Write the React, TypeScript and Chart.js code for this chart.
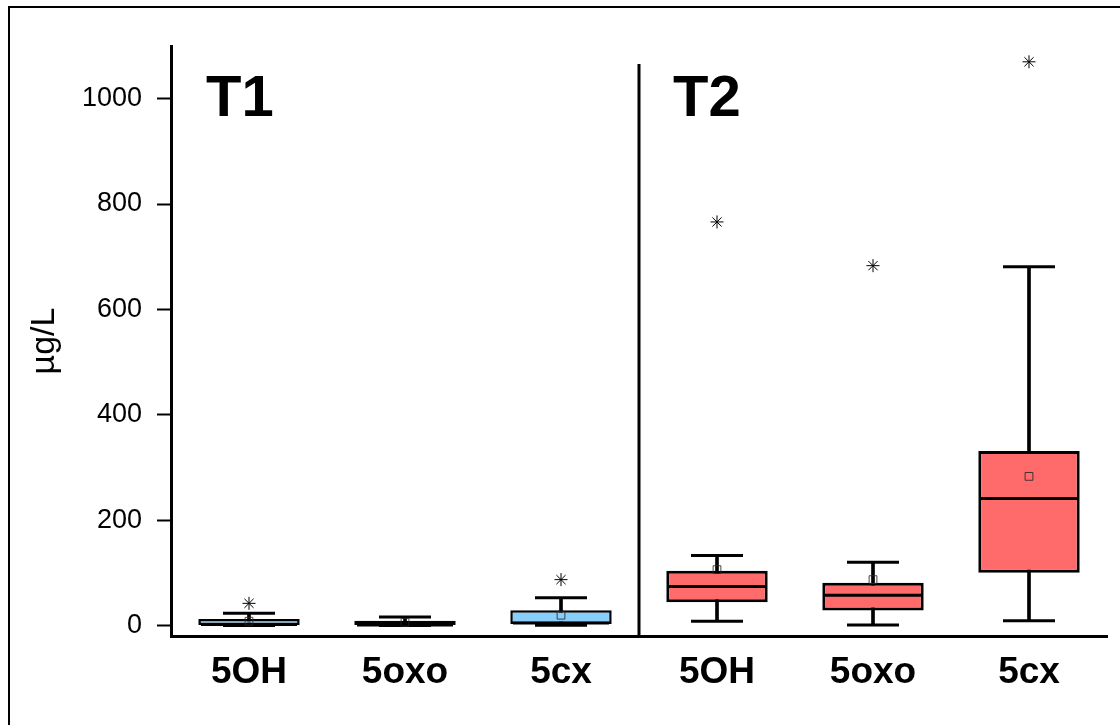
import { useEffect, useRef } from "react";
import { Chart, registerables } from "chart.js";

Chart.register(...registerables);

// Metabolite concentrations (µg/L) per sampling time, T1 then T2
const categories = ["5OH", "5oxo", "5cx", "5OH", "5oxo", "5cx"];
const groupNames = ["T1", "T2"];
const whiskerLow = [0, 0, 0.5, 8, 1, 9];
const q1 = [0, 0, 3, 44, 28.5, 100];
const median = [2, 1, 4.5, 74, 57.5, 241];
const q3 = [12.5, 9, 29, 104, 81, 331];
const whiskerHigh = [23, 16, 52.5, 133, 120, 681];
const mean = [8, 6, 19.5, 106, 87, 283];
const outliers = [42, null, 87, 766, 683, 1070];
const yTicks = [0, 200, 400, 600, 800, 1000];

const T1_FILL = "#87CEFA";
const T2_FILL = "#FF6A6A";
const boxFill = categories.map((_, i) => (i < 3 ? T1_FILL : T2_FILL));
const boxBorder = categories.map((_, i) => (i < 3 ? 2.5 : 3));
const FONT = "'Liberation Sans', Arial, Helvetica, sans-serif";

// Outer frame, T1/T2 divider and group headings
const decorations = {
  id: "decorations",
  beforeDraw(chart: any) {
    const { ctx } = chart;
    ctx.save();
    ctx.strokeStyle = "#000";
    ctx.lineWidth = 2;
    ctx.beginPath();
    ctx.moveTo(1120, 7);
    ctx.lineTo(9, 7);
    ctx.lineTo(9, 725);
    ctx.stroke();
    ctx.restore();
  },
  afterDraw(chart: any) {
    const { ctx, chartArea, scales } = chart;
    const x = scales.x;
    const divX = (x.getPixelForValue(2) + x.getPixelForValue(3)) / 2;
    ctx.save();
    ctx.strokeStyle = "#000";
    ctx.lineWidth = 3;
    ctx.beginPath();
    ctx.moveTo(divX, chartArea.top + 18);
    ctx.lineTo(divX, chartArea.bottom);
    ctx.stroke();

    ctx.fillStyle = "#000";
    ctx.font = `bold 58px ${FONT}`;
    ctx.textAlign = "left";
    ctx.textBaseline = "alphabetic";
    ctx.fillText(groupNames[0], chartArea.left + 35, chartArea.top + 70);
    ctx.fillText(groupNames[1], divX + 34, chartArea.top + 70);
    ctx.restore();
  },
};

export default function App() {
  const canvasRef = useRef<HTMLCanvasElement | null>(null);

  useEffect(() => {
    if (!canvasRef.current) return;
    const chart = new Chart(canvasRef.current, {
      type: "bar",
      data: {
        labels: categories,
        datasets: [
          {
            type: "bar",
            label: "whisker",
            data: categories.map((_, i) => [whiskerLow[i], whiskerHigh[i]]),
            backgroundColor: "#000",
            barThickness: 3,
            grouped: false,
            order: 10,
          } as any,
          {
            type: "bar",
            label: "box",
            data: categories.map((_, i) => [q1[i], q3[i]]),
            backgroundColor: boxFill,
            borderColor: "#000",
            borderWidth: boxBorder,
            borderSkipped: false,
            barPercentage: 0.65,
            categoryPercentage: 1,
            grouped: false,
            order: 9,
          } as any,
          {
            type: "line",
            label: "median",
            data: median,
            showLine: false,
            pointStyle: "line",
            pointRadius: 48,
            pointBorderColor: "#000",
            pointBorderWidth: 3,
            order: 5,
          } as any,
          {
            type: "line",
            label: "low",
            data: whiskerLow,
            showLine: false,
            pointStyle: "line",
            pointRadius: 26,
            pointBorderColor: "#000",
            pointBorderWidth: 3,
            order: 6,
          } as any,
          {
            type: "line",
            label: "high",
            data: whiskerHigh,
            showLine: false,
            pointStyle: "line",
            pointRadius: 26,
            pointBorderColor: "#000",
            pointBorderWidth: 3,
            order: 6,
          } as any,
          {
            type: "line",
            label: "mean",
            data: mean,
            showLine: false,
            pointStyle: "rect",
            pointRadius: 5.5,
            pointBackgroundColor: "rgba(0,0,0,0)",
            pointBorderColor: "rgba(40,40,40,0.85)",
            pointBorderWidth: 1,
            order: 3,
          } as any,
          {
            type: "line",
            label: "outlier",
            data: outliers,
            showLine: false,
            pointStyle: "star",
            pointRadius: 6.5,
            pointBorderColor: "#000",
            pointBorderWidth: 1,
            order: 2,
          } as any,
        ],
      },
      options: {
        responsive: false,
        animation: false,
        devicePixelRatio: 1,
        layout: { autoPadding: false, padding: { top: 46, right: 13, left: 0, bottom: 0 } },
        plugins: {
          legend: { display: false },
          tooltip: { enabled: false },
        },
        scales: {
          x: {
            type: "category",
            offset: true,
            grid: { display: false, drawTicks: false },
            border: { display: true, color: "#000", width: 3 },
            ticks: {
              color: "#000",
              font: { family: FONT, size: 37, weight: "bold" },
              padding: 15,
              maxRotation: 0,
              autoSkip: false,
            },
            afterFit: (s: any) => {
              s.height = 89;
              s.paddingLeft = 0;
              s.paddingRight = 0;
            },
          },
          y: {
            min: -20,
            max: 1100,
            afterBuildTicks: (s: any) => {
              s.ticks = yTicks.map((v) => ({ value: v }));
            },
            grid: {
              display: true,
              drawOnChartArea: false,
              drawTicks: true,
              tickLength: 14,
              tickWidth: 2,
              tickColor: "#000",
            },
            border: { display: true, color: "#000", width: 3 },
            ticks: {
              color: "#000",
              font: { family: FONT, size: 27 },
              padding: 15,
              callback: (v: any) => String(v),
            },
            title: {
              display: true,
              text: "µg/L",
              color: "#000",
              font: { family: FONT, size: 34 },
              padding: { top: 24, bottom: 0 },
            },
            afterFit: (s: any) => {
              s.width = 171;
              s.paddingTop = 0;
              s.paddingBottom = 0;
            },
          },
        },
      } as any,
      plugins: [decorations],
    });
    return () => chart.destroy();
  }, []);

  return (
    <div style={{ position: "fixed", left: 0, top: 0, width: 1120, height: 725, background: "#fff" }}>
      <canvas ref={canvasRef} width={1120} height={725} />
    </div>
  );
}
